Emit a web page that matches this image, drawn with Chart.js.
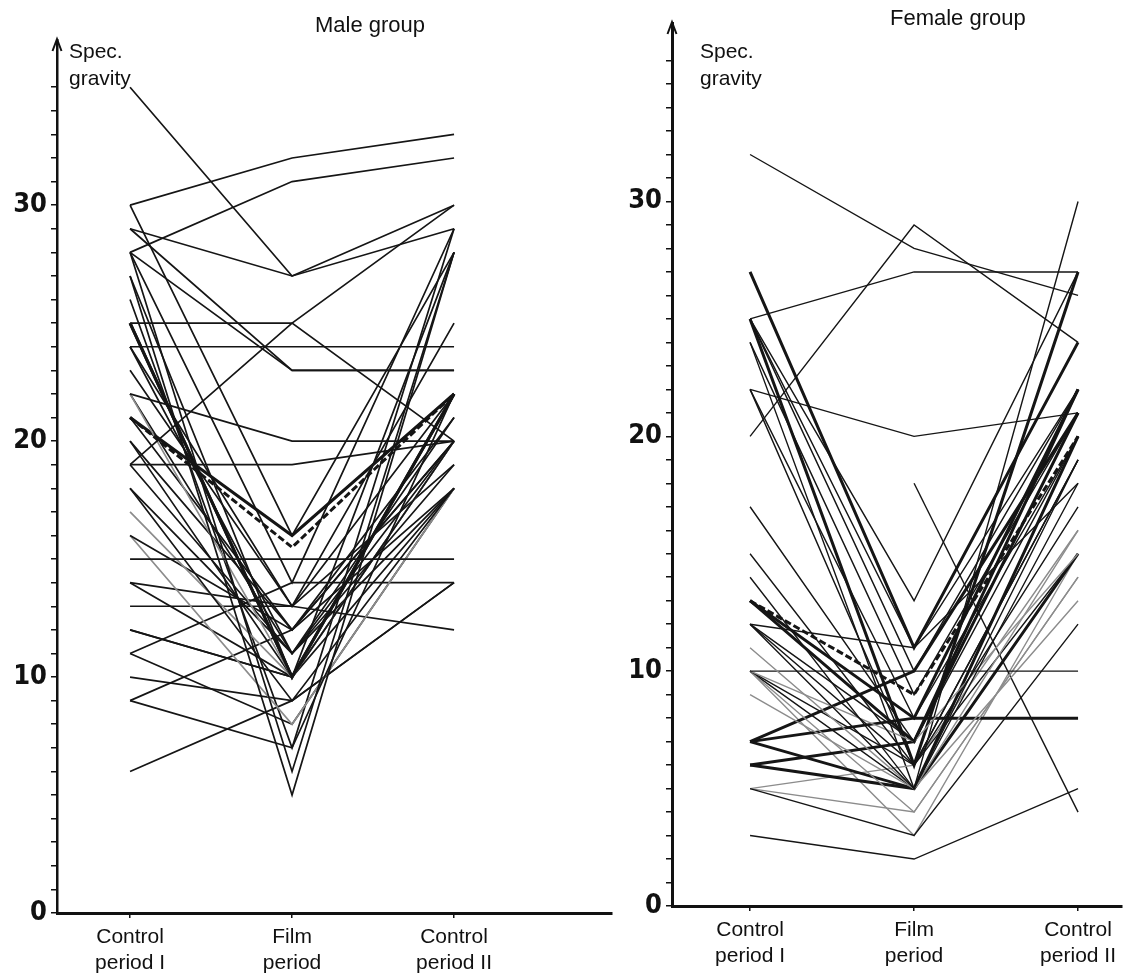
<!DOCTYPE html>
<html>
<head>
<meta charset="utf-8">
<script src="https://cdn.jsdelivr.net/npm/chart.js@4.4.1/dist/chart.umd.min.js"></script>
<style>
  html, body { margin: 0; padding: 0; background: #fff; }
  #wrap { position: relative; width: 1132px; height: 976px; overflow: hidden; font-family: 'Liberation Sans', Arial, sans-serif; color: #111; }
  canvas { position: absolute; left: 0; top: 0; }
  .title { position: absolute; font-size: 22px; white-space: nowrap; }
  .ylab { position: absolute; font-size: 21px; line-height: 27px; white-space: nowrap; }
</style>
</head>
<body>
<div id="wrap">
  <canvas id="maleChart" width="1132" height="976"></canvas>
  <canvas id="femaleChart" width="1132" height="976"></canvas>
  <div class="title" style="left:315px; top:12px;">Male group</div>
  <div class="ylab" style="left:69px; top:37px;">Spec.<br>gravity</div>
  <div class="title" style="left:890px; top:5px;">Female group</div>
  <div class="ylab" style="left:700px; top:37px;">Spec.<br>gravity</div>
</div>
<script>
// x categories (one per measuring period)
const periods = [['Control', 'period I'], ['Film', 'period'], ['Control', 'period II']];
const majorTicks = [0, 10, 20, 30];

// Male group: one value per subject and period
const maleControl1 = [30, 28, 35, 29, 19, 25, 24, 29, 28, 22, 19, 30, 21, 28, 27, 28, 15, 23, 9, 25, 24, 22, 21, 20, 19, 18, 17, 16, 16, 14, 14, 13, 12, 11, 11, 10, 26, 9, 6, 18, 27, 20, 22, 25, 12, 24, 21];
const maleFilm     = [32, 31, 27, 27, 25, 25, 24, 23, 23, 20, 19, 16, 15.5, 14, 5, 6, 15, 13, 7, 10, 11, 10, 12, 10, 11, 9, 10, 12, 8, 10, 13, 13, 10, 8, 14, 9, 7, 12, 9, 11, 10, 12, 11, 10, 10, 13, 16];
const maleControl2 = [33, 32, 30, 29, 30, 20, 24, 23, 23, 20, 20, 28, 22, 29, 28, 28, 15, 25, 22, 22, 21, 22, 20, 20, 19, 18, 20, 18, 18, 18, 19, 12, 20, 18, 14, 14, 29, 20, 14, 18, 28, 21, 20, 22, 22, 22, 22];

// Female group
const femaleControl1 = [32, 20, 25, 22, 25, 27, 25, 25, 24, 22, 17, 15, 14, 13, 13, 12, 12, 12, 11, 10, 10, 10, 10, 9, 7, 7, 7, 6, 6, 5, 5, 3, null, 10, 25, 12, 10, 5, 13, 24, 22];
const femaleFilm     = [28, 29, 27, 20, 13, 11, 11, 10, 9, 8, 7, 6, 5, 9, 8, 7, 5, 6, 5, 10, 7, 6, 4, 5, 8, 5, 10, 5, 7, 3, 4, 2, 18, 5, 6, 11, 3, 6, 7, 5, 6];
const femaleControl2 = [26, 24, 27, 21, 27, 24, 22, 22, 21, 20, 20, 19, 18, 20, 22, 21, 19, 17, 16, 10, 15, 15, 14, 13, 8, 20, 21, 15, 22, 12, 14, 5, 4, 30, 27, 18, 15, 16, 21, 20, 19];

// which lines are printed heavier / fainter / dashed
const maleBold = [12, 19, 43, 46];
const maleGrey = [21, 26, 28];
const maleDashed = [12];
const femaleBold = [5, 13, 14, 24, 25, 26, 27, 28, 34, 38];
const femaleGrey = [18, 20, 22, 23, 30, 36, 37];
const femaleDashed = [13];

function buildDatasets(c1, film, c2, bold, grey, dashed, baseWidth) {
  return c1.map((v, i) => ({
    data: [{ x: 1, y: v }, { x: 2, y: film[i] }, { x: 3, y: c2[i] }],
    borderColor: grey.includes(i) ? '#8c8c8c' : '#151515',
    borderWidth: bold.includes(i) ? 3 : baseWidth,
    borderDash: dashed.includes(i) ? [7, 3] : [],
    pointRadius: 0,
    tension: 0,
    spanGaps: false
  }));
}

const axisArrow = {
  id: 'axisArrow',
  afterDraw(chart) {
    const { ctx, chartArea } = chart;
    const x = chartArea.left;
    const y = chartArea.top;
    ctx.save();
    ctx.strokeStyle = '#111';
    ctx.lineWidth = 2;
    ctx.beginPath();
    ctx.moveTo(x - 4.5, y + 11);
    ctx.lineTo(x, y - 1);
    ctx.lineTo(x + 4.5, y + 11);
    ctx.stroke();
    ctx.restore();
  }
};

function makeChart(id, datasets, g) {
  return new Chart(document.getElementById(id), {
    type: 'line',
    data: { datasets },
    options: {
      responsive: false,
      devicePixelRatio: 1,
      animation: false,
      layout: { padding: g.padding },
      plugins: { legend: { display: false }, tooltip: { enabled: false } },
      scales: {
        x: {
          type: 'linear',
          min: g.xMin,
          max: g.xMax,
          afterFit: (s) => { s.height = g.xHeight; },
          afterBuildTicks: (s) => { s.ticks = [1, 2, 3].map((v) => ({ value: v })); },
          grid: { drawOnChartArea: false, drawTicks: true, tickLength: 5, color: '#111', lineWidth: 1.5 },
          border: { display: true, color: '#111', width: 3 },
          ticks: {
            autoSkip: false,
            maxRotation: 0,
            padding: 6,
            color: '#111',
            font: { family: "'Liberation Sans', Arial, sans-serif", size: 21, lineHeight: 1.25 },
            callback: (v) => periods[v - 1]
          }
        },
        y: {
          type: 'linear',
          min: 0,
          max: g.yMax,
          afterFit: (s) => { s.width = g.yWidth; },
          afterBuildTicks: (s) => { s.ticks = s.ticks.filter((t) => t.value <= g.lastTick); },
          grid: { drawOnChartArea: false, drawTicks: true, tickLength: 6, color: '#111', lineWidth: 1.5 },
          border: { display: true, color: '#111', width: g.axisWidth },
          ticks: {
            stepSize: 1,
            autoSkip: false,
            padding: 4,
            color: '#111',
            font: { family: "'Liberation Sans Narrow', 'DejaVu Sans Condensed', sans-serif", size: 27, weight: 'bold' },
            callback: (v) => (majorTicks.includes(v) ? String(v) : '')
          }
        }
      }
    },
    plugins: [axisArrow]
  });
}

makeChart('maleChart',
  buildDatasets(maleControl1, maleFilm, maleControl2, maleBold, maleGrey, maleDashed, 1.7),
  { padding: { left: 0, top: 40, right: 520, bottom: 0 }, yWidth: 57, xHeight: 63,
    xMin: 0.549, xMax: 3.975, yMax: 37, lastTick: 35, axisWidth: 2.5 });

makeChart('femaleChart',
  buildDatasets(femaleControl1, femaleFilm, femaleControl2, femaleBold, femaleGrey, femaleDashed, 1.4),
  { padding: { left: 600, top: 23, right: 10, bottom: 0 }, yWidth: 72, xHeight: 70,
    xMin: 0.524, xMax: 3.268, yMax: 37.6, lastTick: 36, axisWidth: 3 });
</script>
</body>
</html>
